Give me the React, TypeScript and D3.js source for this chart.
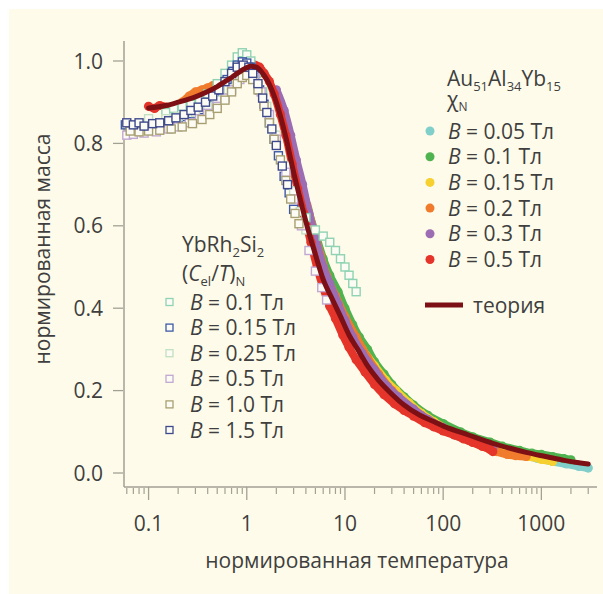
import React from 'react';
import * as d3 from 'd3';

const W = 603;
const H = 594;
const FONT = '"Open Sans", "Noto Sans", sans-serif';
const TEXT = '#3f3f3f';
const AXIS = '#a3a194';

// axis ticks
const xMajor = [0.1, 1, 10, 100, 1000];
const xLabels = ['0.1', '1', '10', '100', '1000'];
const yTicks = [0, 0.2, 0.4, 0.6, 0.8, 1.0];
const yLabels = ['0.0', '0.2', '0.4', '0.6', '0.8', '1.0'];

// Au51Al34Yb15, chi_N  (segments of [T, m])
const au005 = [[[8, 0.43], [10, 0.38], [13, 0.33], [18, 0.27], [25, 0.22], [35, 0.18], [50, 0.15], [70, 0.125], [100, 0.105], [140, 0.09], [200, 0.075], [300, 0.062], [450, 0.05], [650, 0.042], [900, 0.036], [1300, 0.028], [1800, 0.022], [2400, 0.016], [3000, 0.012]]];
const au01 = [[[2.0, 0.92], [2.3, 0.88], [2.7, 0.82], [3.1, 0.76], [3.6, 0.7], [4.2, 0.64], [5, 0.58], [6, 0.52], [7, 0.48], [8.5, 0.44], [10, 0.4], [12, 0.36], [14, 0.33], [17, 0.3], [20, 0.27], [25, 0.24], [30, 0.215], [40, 0.185], [50, 0.165], [70, 0.14], [100, 0.12], [150, 0.1], [200, 0.088], [300, 0.075], [400, 0.065], [600, 0.055], [800, 0.048], [1000, 0.045], [1300, 0.04], [1700, 0.035], [2000, 0.032]]];
const au015 = [[[15, 0.3], [20, 0.26], [26, 0.225], [33, 0.2], [45, 0.17], [60, 0.145], [80, 0.125], [110, 0.105], [150, 0.09], [200, 0.078], [280, 0.066], [400, 0.055], [550, 0.047], [750, 0.04], [1000, 0.033], [1300, 0.028]]];
const au02 = [
  [[0.22, 0.9], [0.26, 0.915], [0.3, 0.925], [0.35, 0.93], [0.4, 0.935], [0.45, 0.94], [0.5, 0.945]],
  [[2.2, 0.9], [2.6, 0.84], [3.0, 0.78], [3.5, 0.71], [4.1, 0.65], [4.8, 0.59], [5.6, 0.53], [6.5, 0.48], [8, 0.43], [10, 0.38], [13, 0.33], [17, 0.28], [22, 0.24], [30, 0.2], [40, 0.17], [60, 0.14], [90, 0.115], [130, 0.095], [180, 0.08], [250, 0.065], [350, 0.052], [450, 0.045], [550, 0.042], [700, 0.04]],
];
const au03 = [[[2.0, 0.93], [2.4, 0.88], [2.8, 0.82], [3.2, 0.76], [3.7, 0.7], [4.3, 0.63], [5, 0.57], [6, 0.5], [7, 0.46], [8.5, 0.41], [10, 0.37], [12, 0.33], [15, 0.29], [20, 0.25], [27, 0.21], [35, 0.185], [50, 0.155], [70, 0.13], [100, 0.11], [140, 0.093], [200, 0.078], [260, 0.065], [320, 0.058]]];
const au05 = [
  [[0.1, 0.89], [0.115, 0.885], [0.13, 0.892], [0.15, 0.888]],
  [[0.9, 0.98], [1.05, 0.99], [1.2, 0.99], [1.35, 0.985], [1.5, 0.97], [1.7, 0.95], [1.9, 0.92], [2.2, 0.87], [2.5, 0.82], [2.9, 0.75], [3.3, 0.69], [3.8, 0.63], [4.5, 0.56], [5.2, 0.5], [6, 0.45], [7, 0.405], [8, 0.375], [9.5, 0.335], [11, 0.305], [13, 0.275], [16, 0.245], [20, 0.215], [25, 0.19], [32, 0.168], [40, 0.152], [50, 0.138], [65, 0.122], [80, 0.112], [100, 0.102], [130, 0.092], [160, 0.083], [200, 0.074], [250, 0.065], [300, 0.057], [320, 0.052]],
];

// YbRh2Si2, (C_el/T)_N
const yb01 = [[0.15, 0.875], [0.18, 0.885], [0.22, 0.89], [0.27, 0.895], [0.33, 0.905], [0.4, 0.92], [0.5, 0.945], [0.6, 0.97], [0.7, 0.99], [0.8, 1.01], [0.9, 1.02], [1.0, 1.015], [1.1, 1.0], [1.25, 0.97], [1.45, 0.925], [1.7, 0.87], [2.0, 0.8], [2.5, 0.73], [3.2, 0.67], [4.0, 0.62], [5.0, 0.59], [6.0, 0.575], [7.0, 0.56], [8, 0.54], [9, 0.52], [10, 0.5], [11, 0.48], [12, 0.46], [13, 0.44]];
const yb015 = [[0.058, 0.845], [0.065, 0.84], [0.075, 0.835], [0.085, 0.84], [0.1, 0.838], [0.12, 0.842], [0.14, 0.845], [0.17, 0.85], [0.2, 0.855], [0.24, 0.865], [0.28, 0.872], [0.33, 0.882], [0.4, 0.895], [0.47, 0.91], [0.55, 0.93], [0.63, 0.955], [0.72, 0.975], [0.8, 0.99], [0.9, 0.998], [1.0, 0.995], [1.1, 0.985], [1.2, 0.965], [1.35, 0.93], [1.5, 0.895], [1.7, 0.85], [1.9, 0.81], [2.1, 0.77], [2.4, 0.72], [2.7, 0.68], [3.0, 0.64]];
const yb025 = [[0.1, 0.86], [0.15, 0.86], [0.2, 0.865], [0.3, 0.875], [0.4, 0.89], [0.5, 0.905], [0.65, 0.93], [0.8, 0.955], [0.95, 0.97], [1.1, 0.965], [1.3, 0.94], [1.6, 0.89], [2.0, 0.82], [2.5, 0.745], [3.0, 0.685], [3.5, 0.635], [4, 0.59]];
const yb05 = [[0.06, 0.82], [0.07, 0.822], [0.09, 0.825], [0.12, 0.828], [0.16, 0.835], [0.2, 0.84], [0.26, 0.85], [0.33, 0.86], [0.4, 0.873], [0.5, 0.89], [0.6, 0.91], [0.7, 0.93], [0.85, 0.955], [1.0, 0.97], [1.2, 0.96], [1.4, 0.925], [1.7, 0.87], [2.0, 0.81], [2.5, 0.73], [3.0, 0.665], [3.6, 0.6], [4.3, 0.54], [5.0, 0.49], [5.8, 0.45], [6.5, 0.42]];
const yb10 = [[0.065, 0.83], [0.08, 0.828], [0.1, 0.83], [0.13, 0.832], [0.17, 0.835], [0.22, 0.84], [0.28, 0.848], [0.35, 0.858], [0.42, 0.87], [0.5, 0.885], [0.6, 0.905], [0.7, 0.925], [0.8, 0.945], [0.9, 0.96], [1.0, 0.965], [1.15, 0.955], [1.3, 0.93], [1.5, 0.89], [1.7, 0.85], [1.9, 0.81], [2.2, 0.76], [2.5, 0.71], [2.8, 0.665], [3.1, 0.63], [3.4, 0.605]];
const yb15 = [[0.06, 0.85], [0.07, 0.845], [0.08, 0.85], [0.09, 0.842], [0.11, 0.848], [0.13, 0.85], [0.16, 0.855], [0.19, 0.862], [0.23, 0.87], [0.27, 0.88], [0.32, 0.888], [0.38, 0.9], [0.45, 0.915], [0.52, 0.93], [0.6, 0.95], [0.7, 0.97], [0.8, 0.985], [0.92, 0.99], [1.05, 0.985], [1.15, 0.97], [1.3, 0.945], [1.45, 0.91], [1.6, 0.875], [1.8, 0.835], [2.0, 0.795], [2.3, 0.745], [2.6, 0.7]];

// theory curve
const theory = [[0.1, 0.886], [0.15, 0.892], [0.2, 0.9], [0.3, 0.913], [0.4, 0.926], [0.5, 0.938], [0.6, 0.95], [0.7, 0.96], [0.8, 0.97], [0.9, 0.978], [1.0, 0.984], [1.1, 0.987], [1.25, 0.985], [1.4, 0.975], [1.6, 0.955], [1.8, 0.93], [2.0, 0.9], [2.5, 0.815], [3.0, 0.73], [3.5, 0.665], [4.0, 0.61], [5.0, 0.53], [6.0, 0.47], [7.5, 0.42], [9, 0.38], [11, 0.335], [13.5, 0.3], [17, 0.26], [22, 0.225], [29, 0.195], [40, 0.165], [58, 0.14], [80, 0.125], [110, 0.11], [155, 0.098], [220, 0.085], [320, 0.072], [480, 0.06], [700, 0.05], [1100, 0.04], [1600, 0.032], [2200, 0.026], [3000, 0.022]];

const auLabels = ['0.05', '0.1', '0.15', '0.2', '0.3', '0.5'];
const auColors = ['#80cfca', '#4fb34f', '#f6d02f', '#f07b2d', '#9c6db3', '#e5352b'];
const auSeries = [au005, au01, au015, au02, au03, au05];

const ybLabels = ['0.1', '0.15', '0.25', '0.5', '1.0', '1.5'];
const ybColors = ['#8fd3b2', '#3d59a6', '#c4dfc2', '#c1a8d2', '#a8a072', '#3f4a8c'];
const ybSeries = [yb01, yb015, yb025, yb05, yb10, yb15];

const THEORY = '#7c1014';

const x = d3.scaleLog().domain([0.0562, 3600]).range([124, 596]);
const y = d3.scaleLinear().domain([0, 1]).range([473, 61]);
const line = d3.line<number[]>().x(d => x(d[0])).y(d => y(d[1])).curve(d3.curveMonotoneX);
const minorTicks = x.ticks().filter(t => !xMajor.includes(t));

const Sub = ({ children }: { children: string }) => (
  <tspan fontSize={13} dy={5}>{children}</tspan>
);

export default function App() {
  return (
    <div style={{ position: 'absolute', left: 0, top: 0 }}>
      <svg width={W} height={H} style={{ display: 'block', fontFamily: FONT }}>
        <rect width={W} height={H} fill="#ffffff" />
        <rect x={9} y={9} width={W - 9} height={H - 9} fill="#fefbea" />

        {/* axes */}
        <line x1={124} x2={124} y1={41} y2={487} stroke={AXIS} strokeWidth={1.5} />
        <line x1={124} x2={597} y1={487} y2={487} stroke={AXIS} strokeWidth={1.5} />
        {yTicks.map((t, i) => (
          <g key={'y' + t}>
            <line x1={113} x2={123} y1={y(t)} y2={y(t)} stroke={AXIS} strokeWidth={1.3} />
            <text x={103} y={y(t)} dy="0.36em" textAnchor="end" fontSize={21} fill={TEXT}>{yLabels[i]}</text>
          </g>
        ))}
        {xMajor.map((t, i) => (
          <g key={'x' + t}>
            <line x1={x(t)} x2={x(t)} y1={487} y2={500} stroke={AXIS} strokeWidth={1.3} />
            <text x={x(t)} y={531} textAnchor="middle" fontSize={21} fill={TEXT}>{xLabels[i]}</text>
          </g>
        ))}
        {minorTicks.map(t => (
          <line key={'m' + t} x1={x(t)} x2={x(t)} y1={488} y2={494} stroke={AXIS} strokeWidth={1.2} />
        ))}
        <text x={357} y={568} textAnchor="middle" fontSize={21} fill={TEXT}>нормированная температура</text>
        <text transform="translate(50,249) rotate(-90)" textAnchor="middle" fontSize={21} fill={TEXT}>нормированная масса</text>

        {/* Au51Al34Yb15 data: bands of dots */}
        {auSeries.map((segs, si) => (
          <g key={'au' + si}>
            {segs.map((seg, k) => (
              <path key={k} d={line(seg) || ''} fill="none" stroke={auColors[si]} strokeWidth={8}
                strokeLinecap="round" strokeLinejoin="round" />
            ))}
            {segs.flat().map((d, k) => (
              <circle key={'c' + k} cx={x(d[0])} cy={y(d[1])} r={4.6} fill={auColors[si]} />
            ))}
          </g>
        ))}

        {/* YbRh2Si2 data: open squares */}
        {ybSeries.map((pts, si) => (
          <g key={'yb' + si}>
            {pts.map((d, k) => (
              <rect key={k} x={x(d[0]) - 4} y={y(d[1]) - 4} width={8} height={8}
                fill="#fdfcf4" stroke={ybColors[si]} strokeWidth={1.4} />
            ))}
          </g>
        ))}

        {/* theory */}
        <path d={line(theory) || ''} fill="none" stroke={THEORY} strokeWidth={5} strokeLinecap="round" />

        {/* right legend */}
        <text x={447} y={86} fontSize={21} fill={TEXT}>
          Au<Sub>51</Sub><tspan dy={-5}>Al</tspan><Sub>34</Sub><tspan dy={-5}>Yb</tspan><Sub>15</Sub>
        </text>
        <text x={447} y={107} fontSize={21} fill={TEXT}>
          χ<tspan fontSize={12} dy={4}>N</tspan>
        </text>
        {auLabels.map((lab, i) => (
          <g key={'la' + i}>
            <circle cx={430} cy={131 + i * 25.7} r={4.5} fill={auColors[i]} />
            <text x={448} y={131 + i * 25.7} dy="0.36em" fontSize={21} fill={TEXT}>
              <tspan fontStyle="italic">B</tspan>{' = ' + lab + ' Тл'}
            </text>
          </g>
        ))}
        <line x1={425} x2={463} y1={305} y2={305} stroke={THEORY} strokeWidth={5} />
        <text x={473} y={305} dy="0.36em" fontSize={21} fill={TEXT}>теория</text>

        {/* left legend */}
        <text x={182} y={252} fontSize={21} fill={TEXT}>
          YbRh<Sub>2</Sub><tspan dy={-5}>Si</tspan><Sub>2</Sub>
        </text>
        <text x={182} y={281} fontSize={21} fill={TEXT}>
          (<tspan fontStyle="italic">C</tspan><Sub>el</Sub><tspan dy={-5}>/</tspan><tspan fontStyle="italic">T</tspan>)<Sub>N</Sub>
        </text>
        {ybLabels.map((lab, i) => (
          <g key={'lb' + i}>
            <rect x={166} y={302 + i * 25.6 - 3.5} width={7} height={7} fill="#fdfcf4" stroke={ybColors[i]} strokeWidth={1.3} />
            <text x={190} y={302 + i * 25.6} dy="0.36em" fontSize={21} fill={TEXT}>
              <tspan fontStyle="italic">B</tspan>{' = ' + lab + ' Тл'}
            </text>
          </g>
        ))}
      </svg>
    </div>
  );
}
